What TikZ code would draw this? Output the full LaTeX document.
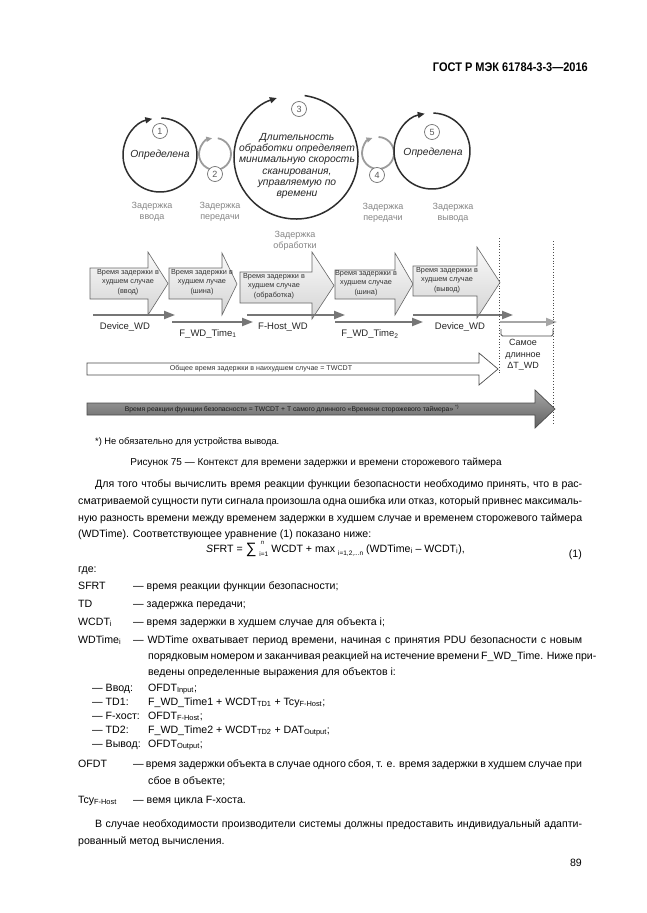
\documentclass[tikz,border=0pt]{standalone}
\usepackage{fontspec}
\setmainfont{Liberation Sans}
\usepackage{tikz}
\usetikzlibrary{arrows.meta}

\definecolor{ringdark}{HTML}{2E2E2E}
\definecolor{ringgray}{HTML}{9C9C9C}
\definecolor{labgray}{HTML}{858585}
\definecolor{tlgray}{HTML}{767676}
\newcommand{\fsz}[2]{\fontsize{#1}{#2}\selectfont}
\newcommand{\fillline}[2]{\makebox[#1pt][s]{#2}}
% block arrow: [style]{x left}{body top}{body bottom}{head base}{tip}{head top}{head bottom}
\newcommand{\delayarrow}[8][]{%
  \draw[#1] (#2,#3) -- (#5,#3) -- (#5,#7) -- (#6,{(#7+#8)/2})
    -- (#5,#8) -- (#5,#4) -- (#2,#4) -- cycle;}

\begin{document}
\begin{tikzpicture}[x=1pt,y=-1pt,
  ring/.style={line width=1.5pt,draw=ringdark,-{Triangle[length=7pt,width=6pt]}},
  smallring/.style={line width=1.8pt,draw=ringgray,-{Triangle[length=6pt,width=5pt]}},
  numcirc/.style={circle,draw=black!55,fill=white,line width=0.7pt,inner sep=0pt,
    minimum size=15pt,text=black!65,font=\fsz{9}{10}},
  circtext/.style={font=\fsz{10.3}{11.3}\itshape,align=center,text=black!85},
  stagelab/.style={font=\fsz{9}{10.8},align=center,text=labgray},
  boxarrow/.style={draw=black!60,line width=0.6pt,top color=black!2,bottom color=black!17},
  boxtext/.style={font=\fsz{7.3}{9.6},align=center,text=black!80},
  tl/.style={line width=2pt,draw=tlgray,-{Triangle[length=11pt,width=8pt]}},
  tllab/.style={font=\fsz{9.5}{11},text=black!85},
  guide/.style={dotted,line width=0.8pt,draw=black!70},
  txt/.style={font=\fsz{10.6}{13},anchor=base west,inner sep=0pt}]
\useasboundingbox[fill=white] (0,0) rectangle (646,913);

% header
\node[anchor=base east,inner sep=0pt,font=\fsz{12.5}{14}\bfseries] (head) at (588,71)
  {\scalebox{0.88}[1]{ГОСТ Р МЭК 61784-3-3—2016}};

% cycle circles
\coordinate (c1) at (160,155);
\coordinate (c2) at (215,154);
\coordinate (c3) at (296,157);
\coordinate (c4) at (378,153);
\coordinate (c5) at (432,151);
\draw[smallring] (c2) ++(-80:16) arc[start angle=-80,end angle=260,radius=16];
\draw[smallring] (c4) ++(-88:16) arc[start angle=-88,end angle=250,radius=16];
\draw[ring] (c1) ++(-88:37) arc[start angle=-88,end angle=258,radius=37];
\draw[ring] (c3) ++(-82:62) arc[start angle=-82,end angle=252,radius=62];
\draw[ring] (c5) ++(-88:38) arc[start angle=-88,end angle=259,radius=38];
\node[numcirc] (n1) at (160,131) {1};
\node[numcirc] (n2) at (215,174) {2};
\node[numcirc] (n3) at (299,109) {3};
\node[numcirc] (n4) at (377,175) {4};
\node[numcirc] (n5) at (432,132) {5};
\node[circtext] (t1) at (c1) {Определена};
\node[circtext] (t3) at (297,166) {Длительность\\обработки определяет\\минимальную скорость\\сканирования,\\управляемую по\\времени};
\node[circtext] (t5) at (433,153) {Определена};
\node[stagelab] (l1) at (152,212) {Задержка\\ввода};
\node[stagelab] (l2) at (220,212) {Задержка\\передачи};
\node[stagelab] (l3) at (295,241) {Задержка\\обработки};
\node[stagelab] (l4) at (383,213) {Задержка\\передачи};
\node[stagelab] (l5) at (453,213) {Задержка\\вывода};

% worst case delay blocks
\delayarrow[boxarrow]{90}{268}{299}{148}{168}{252}{315}
\delayarrow[boxarrow]{169}{268}{299}{222}{237}{253}{315}
\delayarrow[boxarrow]{240}{272}{303}{312}{334}{252}{319}
\delayarrow[boxarrow]{335}{270}{299}{395}{413}{253}{315}
\delayarrow[boxarrow]{413}{266}{296}{477}{500}{247}{318}
\node[boxtext] (b1) at (128,282) {Время задержки в\\худшем случае\\(ввод)};
\node[boxtext] (b2) at (202,282) {Время задержки в\\худшем лучае\\(шина)};
\node[boxtext] (b3) at (274,286) {Время задержки в\\худшем случае\\(обработка)};
\node[boxtext] (b4) at (366,283) {Время задержки в\\худшем случае\\(шина)};
\node[boxtext] (b5) at (447,280) {Время задержки в\\худшем случае\\(вывод)};

% watchdog timelines
\coordinate (w1a) at (93,315);  \coordinate (w1b) at (175,315);
\coordinate (w2a) at (172,322); \coordinate (w2b) at (253,322);
\coordinate (w3a) at (247,315); \coordinate (w3b) at (345,315);
\coordinate (w4a) at (335,322); \coordinate (w4b) at (423,322);
\coordinate (w5a) at (413,315); \coordinate (w5b) at (513,315);
\coordinate (w6a) at (500,322); \coordinate (w6b) at (557,322);
\draw[tl] (w1a) -- (w1b);
\draw[tl] (w2a) -- (w2b);
\draw[tl] (w3a) -- (w3b);
\draw[tl] (w4a) -- (w4b);
\draw[tl] (w5a) -- (w5b);
\draw[tl,draw=black!35] (w6a) -- (w6b);
\node[tllab] (d1) at (125,327) {Device\_WD};
\node[tllab] (d2) at (208,334) {F\_WD\_Time\textsubscript{1}};
\node[tllab] (d3) at (283,327) {F-Host\_WD};
\node[tllab] (d4) at (370,334) {F\_WD\_Time\textsubscript{2}};
\node[tllab] (d5) at (460,327) {Device\_WD};

% longest watchdog delta
\coordinate (g1a) at (499,238); \coordinate (g1b) at (499,374);
\coordinate (g2a) at (553,241); \coordinate (g2b) at (553,425);
\draw[guide] (g1a) -- (g1b);
\draw[guide] (g2a) -- (g2b);
\draw[line width=0.8pt,draw=black!70,rounded corners=1.5pt]
  (501,329) -- (501,336) -- (553,336) -- (553,329);
\node[tllab,align=center,font=\fsz{9}{11.5}] (dwd) at (523,355) {Самое\\длинное\\ΔT\_WD};

% totals
\delayarrow[draw=black!70,line width=0.7pt,fill=white]{87}{363}{375}{479}{498}{353}{385}
\node[boxtext,font=\fsz{7.1}{9}] (tw) at (261,369) {Общее время задержки в наихудшем случае = TWCDT};
\delayarrow[draw=black!70,line width=0.7pt,top color=black!35,bottom color=black!62]{87}{403}{415}{535}{555}{390}{428}
\node[boxtext,font=\fsz{6.8}{9},text=black!90] (sf) at (292,409)
  {Время реакции функции безопасности = TWCDT + T самого длинного «Времени сторожевого таймера» \textsuperscript{*)}};

\node[txt,font=\fsz{9.3}{11}] (fn) at (95,444) {*) Не обязательно для устройства вывода.};
\node[anchor=base,inner sep=0pt,font=\fsz{10}{12}] (cap) at (316,465)
  {Рисунок 75 — Контекст для времени задержки и времени сторожевого таймера};

% text below
\node[txt] (p1) at (95,487) {\fillline{487}{Для того чтобы вычислить время реакции функции безопасности необходимо принять, что в рас-}};
\node[txt] (p2) at (78,504) {\fillline{504}{сматриваемой сущности пути сигнала произошла одна ошибка или отказ, который привнес максималь-}};
\node[txt] (p3) at (78,521) {\fillline{504}{ную разность времени между временем задержки в худшем случае и временем сторожевого таймера}};
\node[txt] (p4) at (78,537) {(WDTime). Соответствующее уравнение (1) показано ниже:};
\node[txt] (eq) at (206,552) {{\itshape S}FRT = \raisebox{-1.5pt}{\fsz{15}{15}∑}\kern3pt\rlap{\kern1.5pt\raisebox{8pt}{\fsz{6}{6}\itshape n}}\raisebox{-4pt}{\fsz{6.5}{6.5}i=1} WCDT + max \raisebox{-3pt}{\fsz{6.5}{7}i=1,2,...n} (WDTime\textsubscript{i} – WCDT\textsubscript{i}),};
\node[txt,anchor=base east] (eqn) at (582,557) {(1)};
\node[txt] (gde) at (78,572) {где:};
\node[txt] (dt1) at (78,589) {SFRT};
\node[txt] (dd1) at (133,589) {— время реакции функции безопасности;};
\node[txt] (dt2) at (78,607) {TD};
\node[txt] (dd2) at (133,607) {— задержка передачи;};
\node[txt] (dt3) at (78,625) {WCDT\textsubscript{i}};
\node[txt] (dd3) at (133,625) {— время задержки в худшем случае для объекта i;};
\node[txt] (dt4) at (78,643) {WDTime\textsubscript{i}};
\node[txt] (dd4) at (133,643) {\fillline{449}{— WDTime охватывает период времени, начиная с принятия PDU безопасности с новым}};
\node[txt] (dd4b) at (148,659) {\fillline{434}{порядковым номером и заканчивая реакцией на истечение времени F\_WD\_Time. Ниже при-}};
\node[txt] (dd4c) at (148,675) {ведены определенные выражения для объектов i:};
\node[txt] (s1) at (92,691) {— Ввод:};
\node[txt] (v1) at (148,691) {OFDT\textsubscript{Input};};
\node[txt] (s2) at (92,705) {— TD1:};
\node[txt] (v2) at (148,705) {F\_WD\_Time1 + WCDT\textsubscript{TD1} + Tcy\textsubscript{F-Host};};
\node[txt] (s3) at (92,719) {— F-хост:};
\node[txt] (v3) at (148,719) {OFDT\textsubscript{F-Host};};
\node[txt] (s4) at (92,733) {— TD2:};
\node[txt] (v4) at (148,733) {F\_WD\_Time2 + WCDT\textsubscript{TD2} + DAT\textsubscript{Output};};
\node[txt] (s5) at (92,747) {— Вывод:};
\node[txt] (v5) at (148,747) {OFDT\textsubscript{Output};};
\node[txt] (dt5) at (78,767) {OFDT};
\node[txt] (dd5) at (133,767) {\fillline{449}{— время задержки объекта в случае одного сбоя, т. е. время задержки в худшем случае при}};
\node[txt] (dd5b) at (148,784) {сбое в объекте;};
\node[txt] (dt6) at (78,803) {Tcy\textsubscript{F-Host}};
\node[txt] (dd6) at (133,803) {— вемя цикла F-хоста.};
\node[txt] (q1) at (95,827) {\fillline{487}{В случае необходимости производители системы должны предоставить индивидуальный адапти-}};
\node[txt] (q2) at (78,844) {рованный метод вычисления.};
\node[txt,anchor=base east] (pg) at (582,866) {89};
\end{tikzpicture}
\end{document}
